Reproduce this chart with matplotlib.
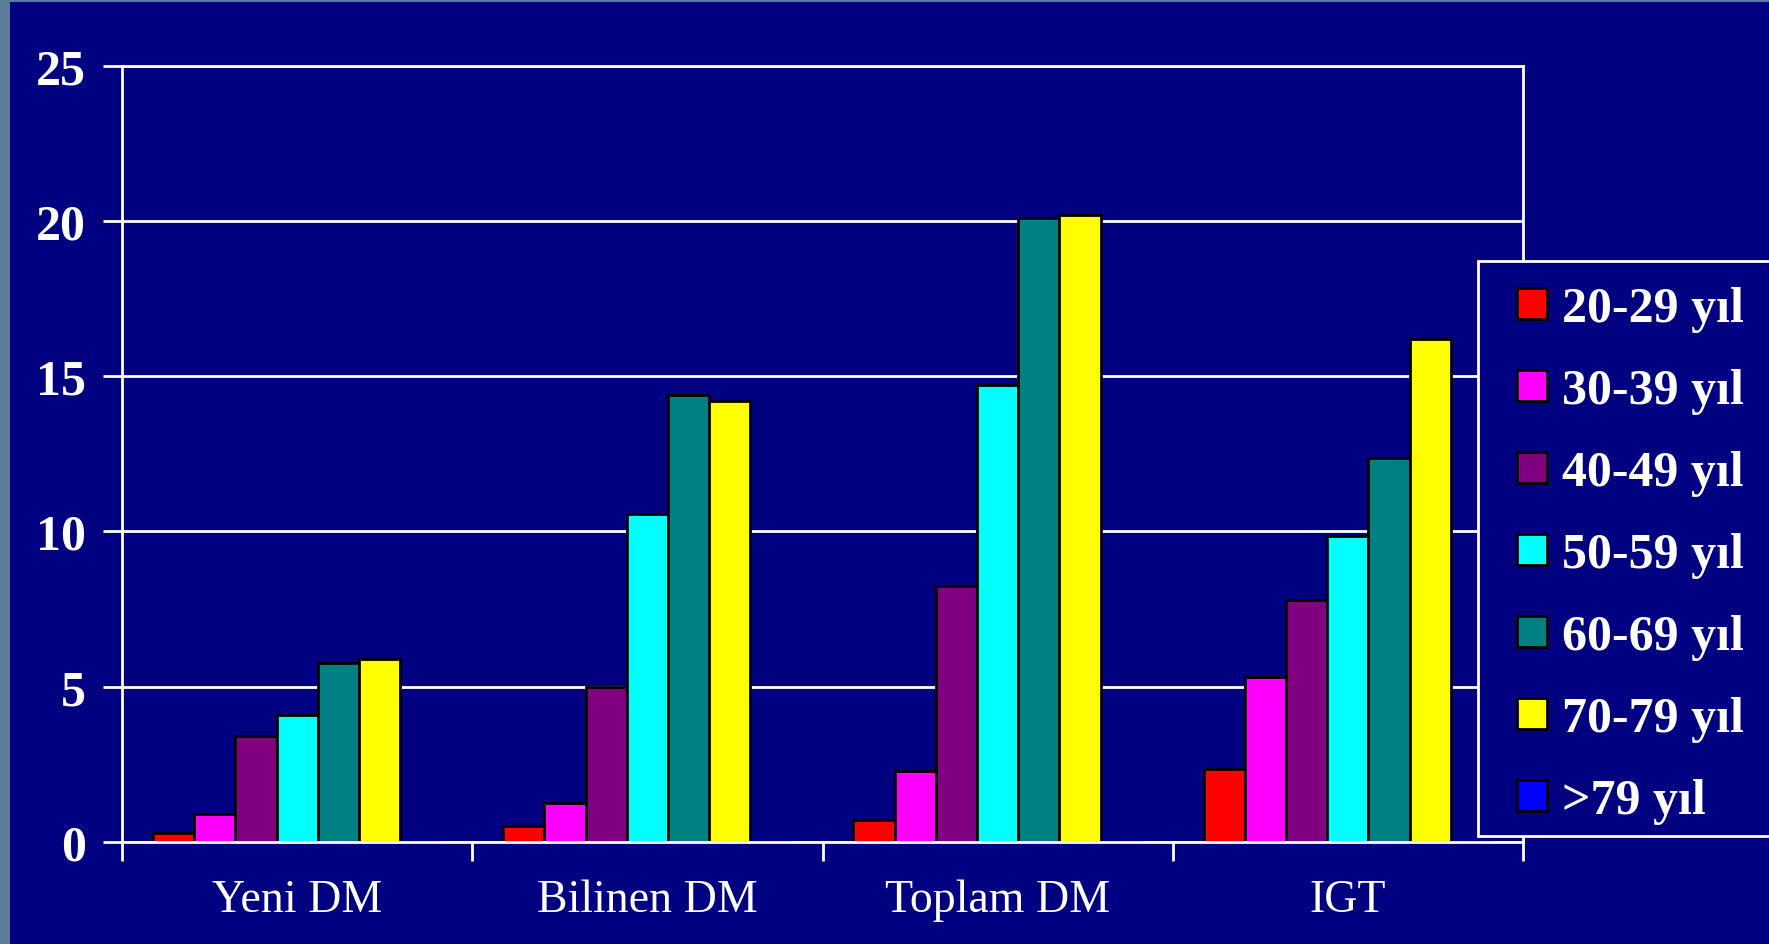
import matplotlib.pyplot as plt
import numpy as np
from matplotlib.patches import Rectangle

categories = ["Yeni DM", "Bilinen DM", "Toplam DM", "IGT"]
age_groups = ["20-29 yıl", "30-39 yıl", "40-49 yıl", "50-59 yıl",
              "60-69 yıl", "70-79 yıl", ">79 yıl"]
values = [
    [0.3, 0.5, 0.7, 2.35],
    [0.9, 1.25, 2.3, 5.3],
    [3.4, 5.0, 8.25, 7.8],
    [4.1, 10.55, 14.7, 9.85],
    [5.75, 14.4, 20.1, 12.35],
    [5.9, 14.2, 20.2, 16.2],
    [0, 0, 0, 0],
]
colors = ["#ff0000", "#ff00ff", "#800080", "#00ffff", "#008080", "#ffff00", "#0000ff"]

navy = "#000080"
plt.rcParams["font.family"] = "Liberation Serif"

W, H = 1769, 945
fig = plt.figure(figsize=(W / 100, H / 100), dpi=100, facecolor="#5d7d9c")
# navy slide area, leaving the thin grey-blue strip on the left and top
fig.patches.append(Rectangle((10 / W, 0), 1, 1 - 3 / H, transform=fig.transFigure,
                             facecolor=navy, edgecolor="none", zorder=-1))

ax = fig.add_axes([122 / W, 1 - 843 / H, (1523 - 122) / W, (843 - 66.6) / H])
ax.set_facecolor(navy)

n = len(age_groups)
width = 1 / (n + 1.5)
x = np.arange(len(categories))
for i, (lab, vals, c) in enumerate(zip(age_groups, values, colors)):
    ax.bar(x - 0.5 + 0.75 * width + i * width + width / 2, vals, width=width,
           color=c, edgecolor="black", linewidth=2, label=lab)

ax.set_xlim(-0.5, len(categories) - 0.5)
ax.set_ylim(0, 25)
ax.set_yticks([0, 5, 10, 15, 20, 25])
ax.set_xticks(x)
ax.set_xticklabels(categories, fontsize=33, color="white")
ax.set_xticks(np.arange(len(categories) + 1) - 0.5, minor=True)
ax.tick_params(axis="x", which="major", length=0, pad=26)
ax.tick_params(axis="x", which="minor", length=14, width=2, color="white", direction="out")
ax.tick_params(axis="y", length=14, width=2, color="white", pad=12,
               labelsize=36, labelcolor="white")
for t in ax.get_yticklabels():
    t.set_fontweight("bold")

ax.grid(axis="y", color="white", linewidth=2)
ax.set_axisbelow(True)
for s in ax.spines.values():
    s.set_color("white")
    s.set_linewidth(2)

# legend box, drawn over the plot's right edge and running off the slide
ax.add_patch(Rectangle((1478 / W, 1 - 837 / H), (1780 - 1478) / W, (837 - 262) / H,
                       transform=fig.transFigure, clip_on=False, zorder=4,
                       facecolor=navy, edgecolor="white", linewidth=2))
leg = ax.legend(loc="upper left", bbox_to_anchor=(1517 / W, 1 - 287 / H),
                bbox_transform=fig.transFigure, borderaxespad=0, borderpad=0,
                prop={"size": 36, "weight": "bold"}, labelcolor="white",
                frameon=False, handlelength=0.6, handleheight=0.58,
                handletextpad=0.3, labelspacing=0.72)

fig.savefig("out.png", dpi=100, facecolor=fig.get_facecolor())
